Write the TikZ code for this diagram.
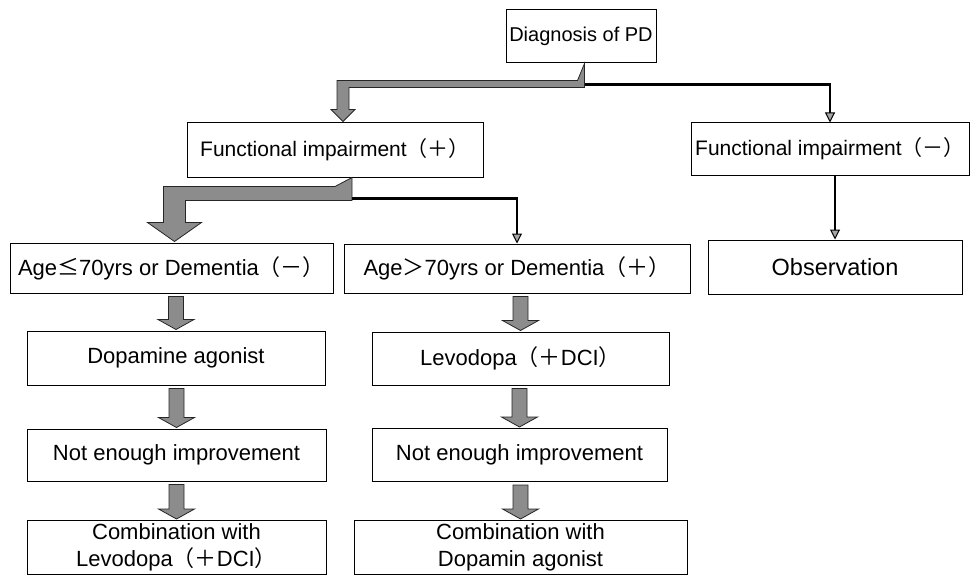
\documentclass[tikz,border=0pt]{standalone}
\usepackage{fontspec}
\setmainfont{Liberation Sans}
\newfontfamily\cjk{Noto Sans CJK JP}
\usetikzlibrary{arrows.meta, calc, positioning}

\tikzset{
  box/.style={draw, line width=1pt, inner sep=0pt, align=center, font=\fontsize{22}{27}\selectfont},
  blockarr/.style={fill=black!45, draw=black!85, line width=0.8pt, line join=miter},
  thinarr/.style={line width=2.2pt, -{Triangle[length=10pt, width=10pt, fill=gray!70, line width=1pt]}}
}

\newcommand{\downarr}[2]{%
  \filldraw[blockarr] let \p1=(#1.south), \p2=(#2.north) in
    (\x2-7.5pt,\y1-3pt) -- (\x2+7.5pt,\y1-3pt) -- (\x2+7.5pt,\y2+11pt) -- (\x2+18pt,\y2+11pt)
    -- (\x2,\y2+1pt) -- (\x2-18pt,\y2+11pt) -- (\x2-7.5pt,\y2+11pt) -- cycle;}

\begin{document}
\begin{tikzpicture}[x=1pt, y=-1pt]
  \useasboundingbox (0,0) rectangle (971,575);

  \node[box, minimum width=150pt, minimum height=53pt, font=\fontsize{20}{24}\selectfont] (diag) at (581,36.5) {Diagnosis of PD};
  \node[box, minimum width=296pt, minimum height=54pt, font=\fontsize{21}{26}\selectfont] (fp) at (335,150) {Functional impairment{\cjk （＋）}};
  \node[box, minimum width=278pt, minimum height=52pt, font=\fontsize{21}{26}\selectfont] (fm) at (830,149) {Functional impairment{\cjk （－）}};
  \node[box, minimum width=323pt, minimum height=50pt] (ale) at (171.5,268) {Age{\cjk ≤}70yrs or Dementia{\cjk （－）}};
  \node[box, minimum width=346pt, minimum height=49pt] (agt) at (517,268.5) {Age{\cjk ＞}70yrs or Dementia{\cjk （＋）}};
  \node[box, minimum width=254pt, minimum height=54pt, font=\fontsize{23.5}{28}\selectfont] (obs) at (835,267) {Observation};
  \node[box, minimum width=298pt, minimum height=54pt] (da) at (176,358) {Dopamine agonist};
  \node[box, minimum width=297pt, minimum height=53pt] (ld) at (520.5,358.5) {Levodopa{\cjk （＋}DCI{\cjk ）}};
  \node[box, minimum width=299pt, minimum height=52pt] (nel) at (176.5,455) {Not enough improvement};
  \node[box, minimum width=295pt, minimum height=53pt] (ner) at (519.5,455) {Not enough improvement};
  \node[box, minimum width=299pt, minimum height=54pt] (cl) at (176.5,547.5) {Combination with\\Levodopa{\cjk （＋}DCI{\cjk ）}};
  \node[box, minimum width=333pt, minimum height=54pt] (cr) at (520.5,547.5) {Combination with\\Dopamin agonist};

  \filldraw[blockarr] let \p1=(diag.south), \p2=(fp.north) in
    (\x1+3.5pt,\y1) -- (\x1+3.5pt,\y1-24pt) -- (\x2+14pt,\y1-24pt) -- (\x2+14pt,\y2+13pt)
    -- (\x2+20pt,\y2+13pt) -- (\x2+8pt,\y2+1pt) -- (\x2-4pt,\y2+13pt) -- (\x2+2pt,\y2+13pt)
    -- (\x2+2pt,\y1-17pt) -- (\x1-3.5pt,\y1-17pt) -- cycle;
  \draw[thinarr] let \p1=(diag.south) in (\x1+3.5pt,\y1-21pt) -| (fm.north);

  \filldraw[blockarr] let \p1=(fp.south), \p2=(ale.north) in
    (\x1+17pt,\y1) -- (\x1+17pt,\y1-23pt) -- (\x2+14pt,\y1-23pt) -- (\x2+14pt,\y2+20pt)
    -- (\x2+30pt,\y2+20pt) -- (\x2+3pt,\y2+1pt) -- (\x2-24pt,\y2+20pt) -- (\x2-8pt,\y2+20pt)
    -- (\x2-8pt,\y1-9pt) -- (\x1,\y1-9pt) -- cycle;
  \draw[thinarr] let \p1=(fp.south) in (\x1+17pt,\y1-21pt) -| (agt.north);

  \draw[thinarr] (fm.south -| obs.north) -- (obs.north);

  \downarr{ale}{da}
  \downarr{da}{nel}
  \downarr{nel}{cl}
  \downarr{agt}{ld}
  \downarr{ld}{ner}
  \downarr{ner}{cr}
\end{tikzpicture}
\end{document}
